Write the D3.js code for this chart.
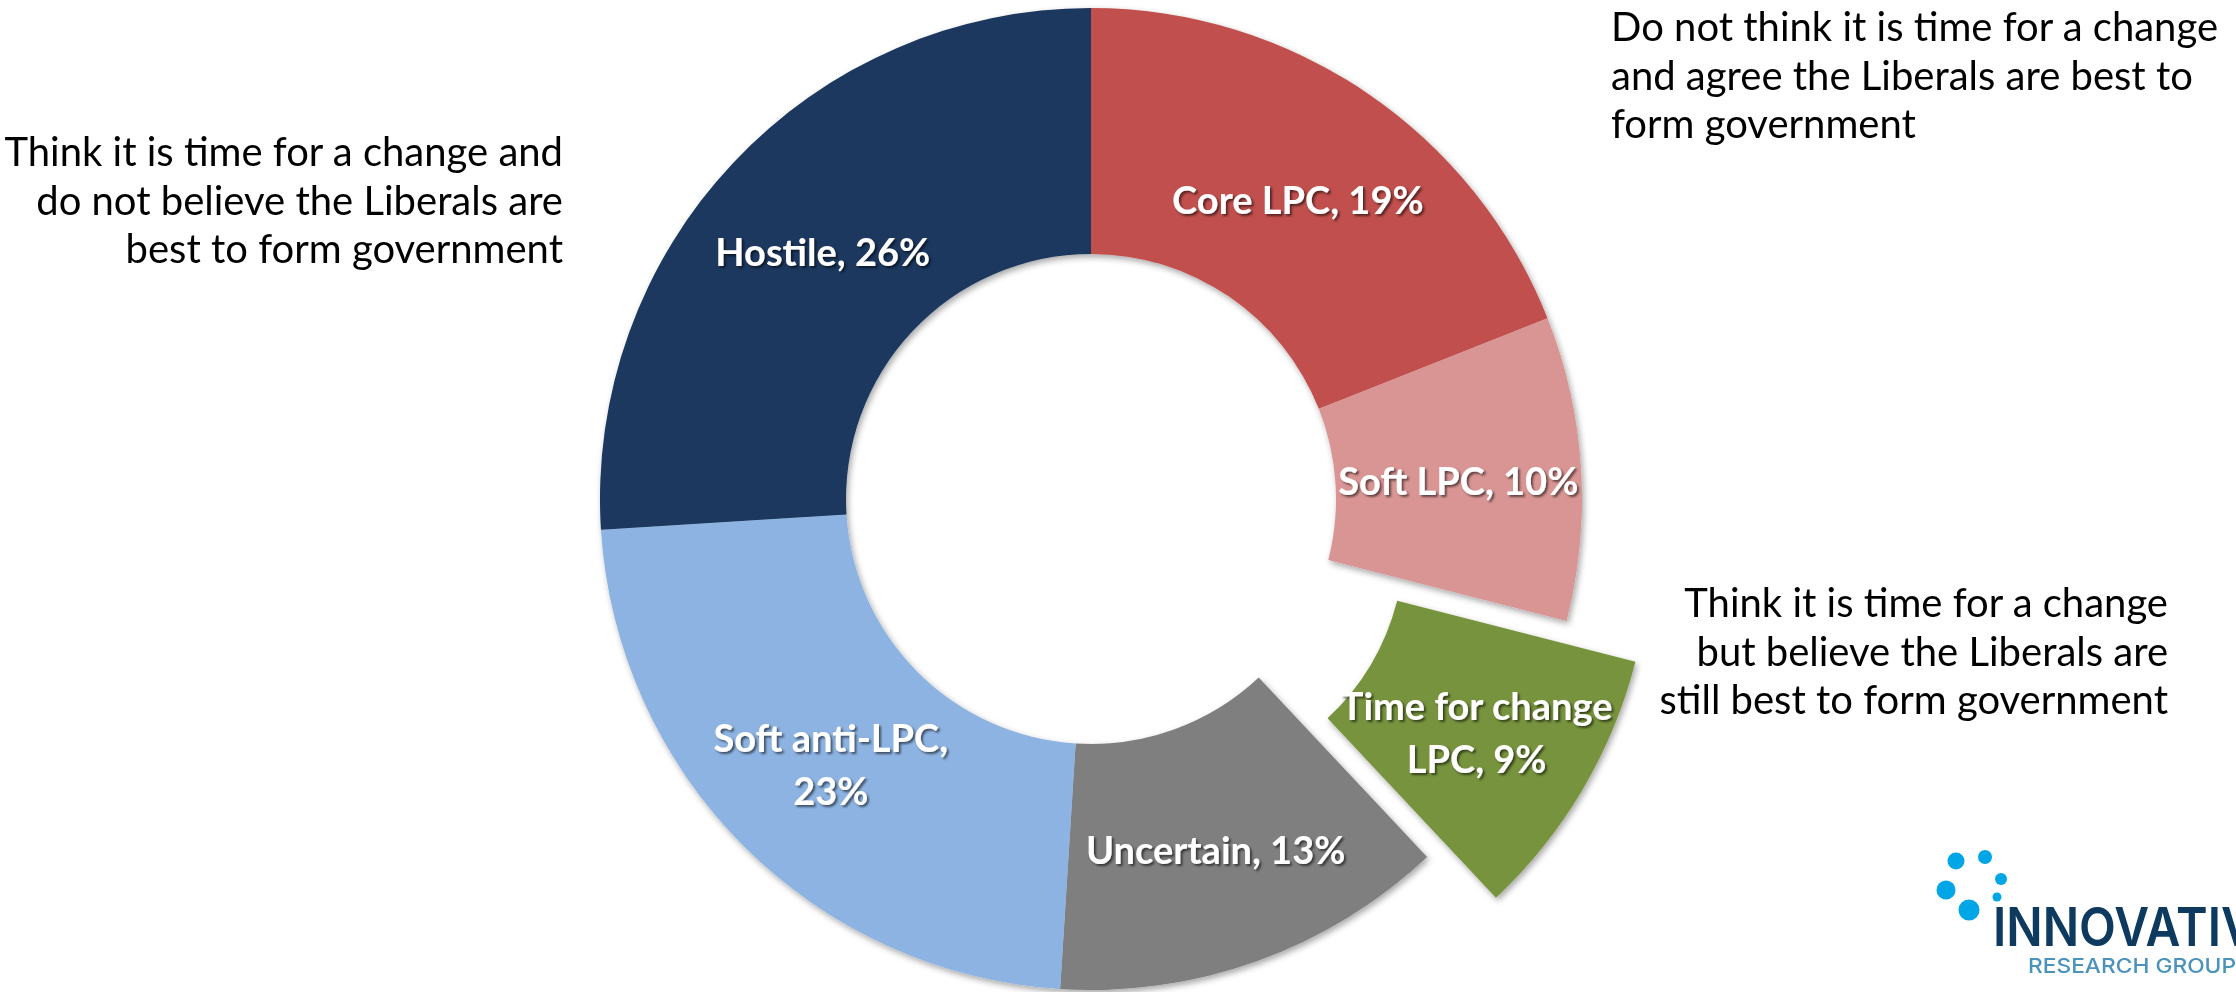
<!DOCTYPE html>
<html>
<head>
<meta charset="utf-8">
<script src="https://cdn.jsdelivr.net/npm/d3@7"></script>
<style>
  html, body { margin: 0; padding: 0; background: #fff; }
  svg { display: block; }
</style>
</head>
<body>
<div id="chart"></div>
<script>
// --- data ---
const categories = ['Core LPC', 'Soft LPC', 'Time for change LPC', 'Uncertain', 'Soft anti-LPC', 'Hostile'];
const values     = [19, 10, 9, 13, 23, 26];
const colors     = ['#C0504D', '#D99594', '#77933C', '#7F7F7F', '#8DB3E2', '#1A375E'];
const labelSplit = [0, 0, 3, 0, 2, 0];   // words on first line (0 = single line)
const exploded   = 'Time for change LPC';

const notes = [
    { lines: ['Think it is time for a change and', 'do not believe the Liberals are', 'best to form government'],
      x: 563, y: 166, anchor: 'end' },
    { lines: ['Do not think it is time for a change', 'and agree the Liberals are best to', 'form government'],
      x: 1611, y: 41, anchor: 'start' },
    { lines: ['Think it is time for a change', 'but believe the Liberals are', 'still best to form government'],
      x: 2168, y: 617, anchor: 'end' }
];

// --- layout ---
const W = 2236, H = 992;
const CX = 1091, CY = 499;
const R_OUT = 491, R_IN = 245;
const EXPLODE = 80;
const FONT = 'Lato, "Open Sans", sans-serif';
const NOTE_SIZE = 40, NOTE_LH = 48.5;
const LABEL_SIZE = 38, LABEL_LH = 53;

const data = categories.map((c, i) => ({ category: c, value: values[i], color: colors[i], split: labelSplit[i] }));

const svg = d3.select('#chart').append('svg')
    .attr('width', W)
    .attr('height', H);

const defs = svg.append('defs');
defs.append('filter').attr('id', 'sliceShadow')
    .attr('x', '-10%').attr('y', '-10%').attr('width', '120%').attr('height', '120%')
    .append('feDropShadow')
    .attr('dx', 2).attr('dy', 3).attr('stdDeviation', 3)
    .attr('flood-color', '#000').attr('flood-opacity', 0.35);
defs.append('filter').attr('id', 'textShadow')
    .attr('x', '-10%').attr('y', '-30%').attr('width', '120%').attr('height', '160%')
    .append('feDropShadow')
    .attr('dx', 2).attr('dy', 2).attr('stdDeviation', 1.2)
    .attr('flood-color', '#000').attr('flood-opacity', 0.55);

const pie = d3.pie().sort(null).value(d => d.value);
const arc = d3.arc().innerRadius(R_IN).outerRadius(R_OUT);
const arcs = pie(data);

function offset(d) {
    if (d.data.category !== exploded) return [0, 0];
    const a = (d.startAngle + d.endAngle) / 2;
    return [Math.sin(a) * EXPLODE, -Math.cos(a) * EXPLODE];
}

const g = svg.append('g').attr('transform', `translate(${CX},${CY})`);

g.append('g').attr('filter', 'url(#sliceShadow)')
    .selectAll('path').data(arcs).enter().append('path')
    .attr('transform', d => `translate(${offset(d)})`)
    .attr('d', arc)
    .attr('fill', d => d.data.color);

// slice labels
const labels = g.append('g').attr('filter', 'url(#textShadow)');
arcs.forEach(d => {
    const full  = `${d.data.category}, ${d.data.value}%`;
    const words = full.split(' ');
    const lines = d.data.split ? [words.slice(0, d.data.split).join(' '), words.slice(d.data.split).join(' ')] : [full];
    const [cx, cy] = arc.centroid(d);
    const [ox, oy] = offset(d);
    const t = labels.append('text')
        .attr('x', cx + ox)
        .attr('y', cy + oy + 4 - (lines.length - 1) * LABEL_LH / 2)
        .attr('text-anchor', 'middle')
        .attr('dominant-baseline', 'central')
        .attr('fill', '#fff')
        .style('font-family', FONT)
        .style('font-weight', 700)
        .style('font-size', LABEL_SIZE + 'px');
    lines.forEach((ln, i) => {
        t.append('tspan').attr('x', cx + ox).attr('dy', i ? LABEL_LH : 0).text(ln);
    });
});

// side notes
notes.forEach(n => {
    const t = svg.append('text')
        .attr('text-anchor', n.anchor)
        .attr('fill', '#000')
        .style('font-family', FONT)
        .style('font-size', NOTE_SIZE + 'px');
    n.lines.forEach((ln, i) => {
        t.append('tspan').attr('x', n.x).attr('y', n.y + i * NOTE_LH).text(ln);
    });
});

// logo
const logo = svg.append('g');
[[1956, 861, 8.5], [1985, 857, 7], [2001, 879, 6], [1946, 890, 9.5], [1969, 910, 10.5], [1997, 897, 4.5]]
    .forEach(([x, y, r]) => logo.append('circle').attr('cx', x).attr('cy', y).attr('r', r).attr('fill', '#00A6E6'));
logo.append('text')
    .attr('x', 1993).attr('y', 946)
    .attr('textLength', 292).attr('lengthAdjust', 'spacingAndGlyphs')
    .attr('fill', '#0E3A60')
    .style('font-family', 'Inter, Lato, sans-serif')
    .style('font-weight', 600)
    .style('font-size', '54px')
    .text('INNOVATIVE');
logo.append('text')
    .attr('x', 2028).attr('y', 973)
    .attr('textLength', 208).attr('lengthAdjust', 'spacingAndGlyphs')
    .attr('fill', '#4A93BD')
    .style('font-family', 'Inter, Lato, sans-serif')
    .style('font-weight', 500)
    .style('font-size', '20px')
    .text('RESEARCH GROUP');
</script>
</body>
</html>
